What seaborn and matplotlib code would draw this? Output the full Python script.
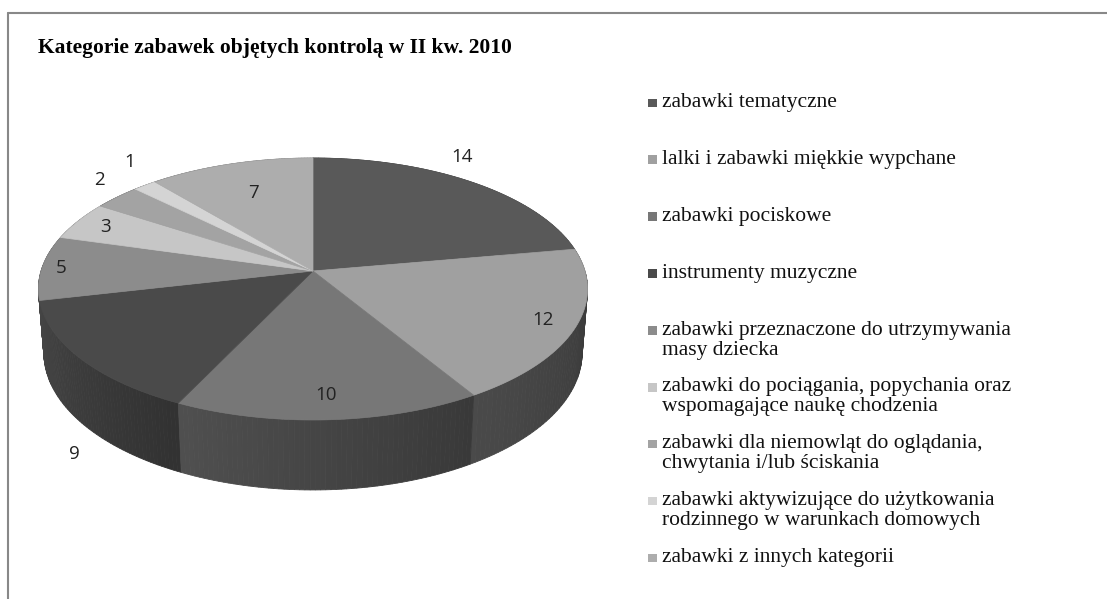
import numpy as np
import matplotlib
matplotlib.use("Agg")
import matplotlib.pyplot as plt
from matplotlib.patches import Polygon, Rectangle
from matplotlib.lines import Line2D
import seaborn as sns

# data
title = "Kategorie zabawek objętych kontrolą w II kw. 2010"
categories = [
    "zabawki tematyczne",
    "lalki i zabawki miękkie wypchane",
    "zabawki pociskowe",
    "instrumenty muzyczne",
    "zabawki przeznaczone do utrzymywania\nmasy dziecka",
    "zabawki do pociągania, popychania oraz\nwspomagające naukę chodzenia",
    "zabawki dla niemowląt do oglądania,\nchwytania i/lub ściskania",
    "zabawki aktywizujące do użytkowania\nrodzinnego w warunkach domowych",
    "zabawki z innych kategorii",
]
counts = [14, 12, 10, 9, 5, 3, 2, 1, 7]

# styles
top_colors = ["#595959", "#a0a0a0", "#777777", "#4a4a4a", "#8c8c8c",
              "#c6c6c6", "#a3a3a3", "#d4d4d4", "#adadad"]
side_colors = ["#404040", "#424242", "#474747", "#3e3e3e", "#555555",
               "#6a6a6a", "#5a5a5a", "#707070", "#606060"]
label_r = [1.19, 0.88, 0.85, 1.05, 0.93, 0.88, 1.17, 1.23, 0.70]
label_z = [0, 0, 0, -1.35, 0, 0, 0, 0, 0]
label_dt = [8.3, 0, 0, 0, 0, 0, -3.5, -4.5, 0]   # degrees

sns.set_theme(style="white")
plt.rcParams["font.family"] = ["Liberation Serif", "DejaVu Sans"]

W, H = 1107, 599
fig = plt.figure(figsize=(W / 100, H / 100), dpi=100)
ax = fig.add_axes([0, 0, 1, 1])
ax.set_xlim(0, W)
ax.set_ylim(H, 0)
ax.axis("off")

# simple perspective camera for the 3D pie
cx, cy = 313, 271
elev = np.radians(28.2)
ce, se = np.cos(elev), np.sin(elev)
D = 6.413
scale = 1744
depth_h = 0.27


def proj(u, v, z):
    d = D + v * ce - z * se
    up = v * se + z * ce
    return cx + scale * u / d, cy - scale * up / d


def shade(hexcol, f):
    r, g, b = matplotlib.colors.to_rgb(hexcol)
    return (min(r * f, 1), min(g * f, 1), min(b * f, 1))


total = sum(counts)
bounds = np.cumsum([0] + counts) / total * 360.0
starts = np.radians(90 - bounds[:-1])
ends = np.radians(90 - bounds[1:])

# side walls, painter's order (back first)
segs = []
for i in range(len(counts)):
    ts = np.linspace(starts[i], ends[i], 60)
    for k in range(len(ts) - 1):
        ta, tb = ts[k], ts[k + 1]
        frac = (k + 0.5) / (len(ts) - 1)
        segs.append((np.sin((ta + tb) / 2), i, ta, tb, frac))
segs.sort(key=lambda s: -s[0])
for _, i, ta, tb, frac in segs:
    pts = [proj(np.cos(ta), np.sin(ta), 0), proj(np.cos(tb), np.sin(tb), 0),
           proj(np.cos(tb), np.sin(tb), -depth_h), proj(np.cos(ta), np.sin(ta), -depth_h)]
    col = shade(side_colors[i], 0.8 + 0.32 * frac)
    ax.add_patch(Polygon(pts, closed=True, facecolor=col, edgecolor=col, lw=0.6))

# top face
for i in range(len(counts)):
    ts = np.linspace(starts[i], ends[i], 120)
    pts = [proj(0, 0, 0)] + [proj(np.cos(t), np.sin(t), 0) for t in ts]
    ax.add_patch(Polygon(pts, closed=True, facecolor=top_colors[i],
                         edgecolor=top_colors[i], lw=0.5))

# value labels
for i, n in enumerate(counts):
    tm = (starts[i] + ends[i]) / 2 + np.radians(label_dt[i])
    r = label_r[i]
    x, y = proj(r * np.cos(tm), r * np.sin(tm), label_z[i] * depth_h)
    ax.text(x, y, str(n), ha="center", va="center", fontsize=13.5,
            family=["Open Sans", "DejaVu Sans"], color="#222222")

# title
ax.text(38, 48, title, ha="left", va="center", fontsize=15.5, fontweight="bold",
        color="black")

# legend
leg_y0, leg_step = 103, 56.9
for i, lab in enumerate(categories):
    y = leg_y0 + i * leg_step
    ax.add_patch(Rectangle((648, y - 4.5), 8.5, 8.5, facecolor=top_colors[i],
                           edgecolor="none"))
    ax.text(662, y - 10, lab, ha="left", va="top", fontsize=15.5,
            linespacing=1.07, color="#111111")

# chart frame (only top and left visible)
ax.add_line(Line2D([8, W], [13, 13], color="#888888", lw=1.5))
ax.add_line(Line2D([8, 8], [13, H], color="#888888", lw=1.5))

fig.savefig("out.png", dpi=100)
